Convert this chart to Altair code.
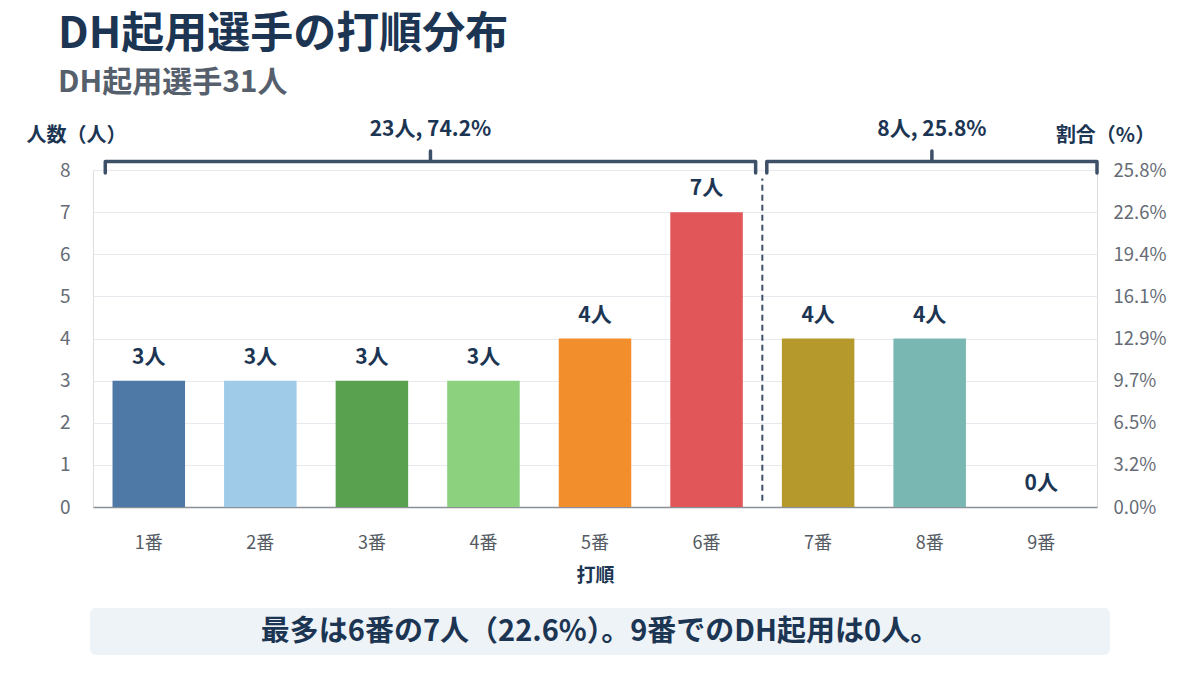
import altair as alt
import pandas as pd

orders = ["1番", "2番", "3番", "4番", "5番", "6番", "7番", "8番", "9番"]
counts = [3, 3, 3, 3, 4, 7, 4, 4, 0]
colors = ["#4e79a7", "#a0cbe8", "#59a14f", "#8cd17d", "#f28e2b",
          "#e15759", "#b6992d", "#79b7b2", "#ff9d9a"]
total = 31
group_first = ["1番", "7番"]
group_last = ["6番", "9番"]
y_ticks = [0, 1, 2, 3, 4, 5, 6, 7, 8]

title_text = "DH起用選手の打順分布"
subtitle_text = "DH起用選手31人"
note_text = "最多は6番の7人（22.6%）。9番でのDH起用は0人。"

FONT = "Noto Sans CJK JP"
NAVY = "#1c3553"
GRAY = "#666c75"

W, H = 1004, 337

df = pd.DataFrame({"order": orders, "count": counts,
                   "label": [f"{c}人" for c in counts]})

# bracket geometry derived from groups (positions on 1..9 grid)
rows = []
ltxt = []
for g, (a, b) in enumerate(zip(group_first, group_last)):
    i0 = orders.index(a) + 1
    i1 = orders.index(b) + 1
    n = sum(counts[i0 - 1:i1])
    s = i0 - 0.5 + (0.11 if g == 0 else 0.04)
    e = i1 + 0.5 - (0.06 if g == 0 else 0.0)
    m = (s + e) / 2
    pts = [(s, 7.93), (s, 8.2), (m, 8.2), (m, 8.45), (m, 8.2), (e, 8.2), (e, 7.93)]
    for k, (px, py) in enumerate(pts):
        rows.append({"g": g, "k": k, "px": px, "py": py})
    ltxt.append({"px": m, "py": 8.95, "t": f"{n}人, {n / total * 100:.1f}%"})
br = pd.DataFrame(rows)
bt = pd.DataFrame(ltxt)
div = pd.DataFrame({"px": [orders.index(group_last[0]) + 1.5], "y0": [0.15], "y1": [7.8]})

xband = alt.X("order:N", sort=orders,
              scale=alt.Scale(paddingInner=0.35, paddingOuter=0.175),
              axis=alt.Axis(title="打順", labelAngle=0, labelFontSize=18, labelColor="#555b63",
                            labelFont=FONT, labelPadding=27, ticks=False,
                            domainColor="#8a9098", domainWidth=1.5,
                            titleFont=FONT, titleFontSize=19, titleColor=NAVY,
                            titleFontWeight="bold", titlePadding=14))
yleft = alt.Y("count:Q", scale=alt.Scale(domain=[0, 8], nice=False),
              axis=alt.Axis(values=y_ticks, title="人数（人）", titleAngle=0,
                            titleAlign="center", titleBaseline="bottom",
                            titleX=-17, titleY=-25, titleFont=FONT, titleFontSize=20,
                            titleFontWeight="bold", titleColor=NAVY,
                            labelFont=FONT, labelFontSize=19, labelColor=GRAY,
                            labelPadding=23, ticks=False, domain=False,
                            gridColor="#e6e9ee", gridWidth=1))

bars = alt.Chart(df).mark_bar().encode(
    x=xband, y=yleft,
    color=alt.Color("order:N", sort=orders,
                    scale=alt.Scale(domain=orders, range=colors), legend=None))
labels = alt.Chart(df).mark_text(font=FONT, fontSize=21, fontWeight="bold", color=NAVY,
                                 baseline="bottom", dy=-13).encode(
    x=alt.X("order:N", sort=orders), y="count:Q", text="label:N")

note_df = pd.DataFrame({"t": [note_text]})
note_box = alt.Chart(note_df).mark_rect(color="#eef3f8", cornerRadius=6).encode(
    x=alt.value(-3), x2=alt.value(1017), y=alt.value(438), y2=alt.value(485))
note = alt.Chart(note_df).mark_text(font=FONT, fontSize=29, fontWeight="bold", color=NAVY,
                                    align="center", baseline="middle").encode(
    x=alt.value(507), y=alt.value(462), text="t:N")

base = alt.layer(bars, labels, note_box, note)

xq = alt.X("px:Q", scale=alt.Scale(domain=[0.5, 9.5], nice=False, zero=False), axis=None)
yq = alt.Y("py:Q", scale=alt.Scale(domain=[0, 8], nice=False), axis=None)

brackets = alt.Chart(br).mark_line(color="#3e5068", strokeWidth=3.5, strokeJoin="round",
                                   strokeCap="round").encode(
    x=xq, y=yq, detail="g:N", order="k:Q")
btext = alt.Chart(bt).mark_text(font=FONT, fontSize=21, fontWeight="bold", color=NAVY,
                                baseline="middle").encode(x=xq, y=yq, text="t:N")
divider = alt.Chart(div).mark_rule(color="#3e5068", strokeWidth=2, strokeDash=[6, 4]).encode(
    x=xq, y=alt.Y("y0:Q", scale=alt.Scale(domain=[0, 8], nice=False), axis=None), y2="y1:Q")
ann = alt.layer(brackets, btext, divider)

right = alt.Chart(df).mark_tick(opacity=0).encode(
    y=alt.Y("count:Q", scale=alt.Scale(domain=[0, 8], nice=False),
            axis=alt.Axis(orient="right", values=y_ticks, grid=False, ticks=False, domain=False,
                          labelExpr=f"format(datum.value / {total} * 100, '.1f') + '%'",
                          labelFont=FONT, labelFontSize=18.5, labelColor=GRAY, labelPadding=16,
                          title="割合（%）", titleAngle=0, titleAlign="center",
                          titleBaseline="bottom", titleX=8, titleY=-25,
                          titleFont=FONT, titleFontSize=20, titleFontWeight="bold",
                          titleColor=NAVY)))

chart = alt.layer(base, ann, right).resolve_scale(
    x="independent", y="independent", color="independent"
).properties(
    width=W, height=H,
    title=alt.TitleParams(text=title_text, subtitle=subtitle_text, anchor="start",
                          font=FONT, fontSize=43, fontWeight="bold", color=NAVY,
                          subtitleFont=FONT, subtitleFontSize=30, subtitleFontWeight="bold",
                          subtitleColor="#56606c", subtitlePadding=11, dx=32, offset=21),
    autosize=alt.AutoSizeParams(type="none"),
    padding={"left": 85, "top": 162, "right": 90, "bottom": 150},
).configure_view(stroke=None).configure(background="white")

chart.save("out.html", embed_options={"renderer": "svg", "actions": False})
